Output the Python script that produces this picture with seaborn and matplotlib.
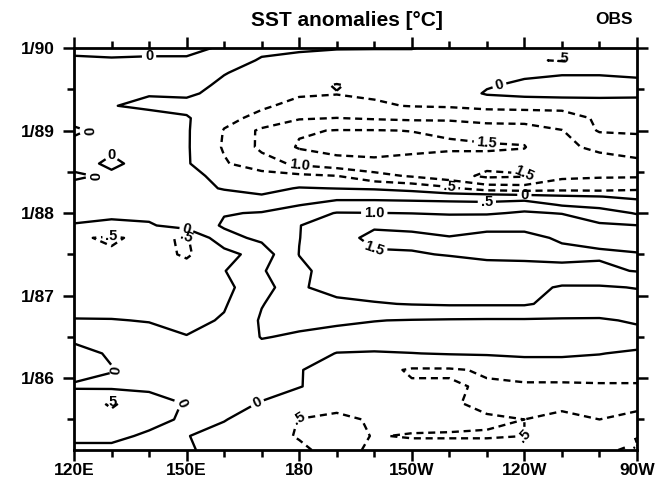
import numpy as np
import matplotlib
matplotlib.use("Agg")
import matplotlib.pyplot as plt
import seaborn as sns

# ---------------- data ----------------
lons = [120, 130, 140, 150, 160, 170, 180, 190, 200, 210, 220, 230, 240, 250, 260, 270]
times = [1985.13, 1985.3, 1985.5, 1985.7, 1985.9, 1986.1, 1986.3, 1986.5, 1986.7, 1986.9,
         1987.1, 1987.3, 1987.5, 1987.7, 1987.85, 1988.0, 1988.1, 1988.2, 1988.3, 1988.45,
         1988.6, 1988.8, 1989.0, 1989.15, 1989.3, 1989.45, 1989.55, 1989.7, 1989.85, 1990.0]

sst = [
    [0.10, 0.15, 0.20, 0.05, -0.15, -0.30, -0.45, -0.60, -0.45, -0.35, -0.35, -0.35, -0.35, -0.30, -0.45, -0.55],  # 1985.13
    [-0.10, -0.15, 0.10, 0.02, -0.20, -0.40, -0.52, -0.65, -0.48, -0.53, -0.53, -0.53, -0.50, -0.30, -0.35, -0.45],  # 1985.3
    [-0.30, -0.40, -0.20, 0.10, 0.03, -0.30, -0.51, -0.60, -0.45, -0.35, -0.40, -0.45, -0.50, -0.45, -0.50, -0.45],  # 1985.5
    [-0.30, -0.55, -0.30, 0.05, 0.15, -0.02, -0.25, -0.35, -0.40, -0.40, -0.45, -0.60, -0.55, -0.55, -0.55, -0.55],  # 1985.7
    [0.05, 0.10, 0.15, 0.20, 0.20, 0.15, 0.02, -0.20, -0.35, -0.45, -0.45, -0.55, -0.55, -0.55, -0.55, -0.55],  # 1985.9
    [-0.15, -0.02, 0.15, 0.20, 0.25, 0.25, 0.03, -0.25, -0.35, -0.55, -0.55, -0.45, -0.35, -0.35, -0.30, -0.30],  # 1986.1
    [-0.15, 0.05, 0.20, 0.25, 0.30, 0.35, 0.30, -0.02, -0.05, -0.01, 0.03, 0.05, 0.10, 0.10, 0.02, -0.10],  # 1986.3
    [0.10, 0.15, 0.15, 0.02, 0.15, 0.52, 0.45, 0.40, 0.35, 0.30, 0.30, 0.30, 0.35, 0.35, 0.30, 0.35],  # 1986.5
    [0.02, 0.02, -0.02, -0.15, 0.05, 0.55, 0.60, 0.55, 0.51, 0.48, 0.46, 0.45, 0.45, 0.45, 0.45, 0.55],  # 1986.7
    [-0.15, -0.20, -0.20, -0.25, -0.05, 0.48, 0.75, 0.90, 0.97, 1.02, 1.05, 1.05, 1.05, 0.85, 0.80, 0.80],  # 1986.9
    [-0.20, -0.30, -0.30, -0.30, -0.10, 0.25, 0.95, 1.15, 1.20, 1.20, 1.20, 1.20, 1.15, 0.95, 0.95, 1.02],  # 1987.1
    [-0.30, -0.35, -0.35, -0.35, -0.02, 0.45, 0.90, 1.20, 1.25, 1.30, 1.30, 1.35, 1.35, 1.40, 1.42, 1.52],  # 1987.3
    [-0.35, -0.45, -0.35, -0.55, -0.20, 0.25, 1.01, 1.30, 1.45, 1.47, 1.52, 1.58, 1.60, 1.60, 1.55, 1.52],  # 1987.5
    [-0.45, -0.55, -0.40, -0.55, 0.35, 0.60, 0.99, 1.35, 1.60, 1.60, 1.52, 1.60, 1.60, 1.45, 1.40, 1.35],  # 1987.7
    [-0.02, -0.10, -0.05, 0.20, 0.55, 0.75, 0.98, 1.40, 1.45, 1.40, 1.35, 1.40, 1.40, 1.30, 1.05, 1.01],  # 1987.85
    [0.10, 0.10, 0.12, 0.30, 0.48, 0.52, 0.80, 1.02, 1.01, 0.99, 0.95, 0.95, 1.05, 0.98, 0.80, 0.45],  # 1988.0
    [0.10, 0.10, 0.10, 0.25, 0.35, 0.35, 0.48, 0.70, 0.70, 0.70, 0.68, 0.62, 0.80, 0.45, 0.30, 0.20],  # 1988.1
    [0.15, 0.15, 0.15, 0.20, 0.10, 0.05, 0.30, 0.35, 0.35, 0.30, 0.25, 0.28, 0.20, 0.08, 0.01, -0.10],  # 1988.2
    [0.10, 0.10, 0.10, 0.10, -0.02, -0.15, 0.03, -0.01, -0.05, -0.15, -0.40, -0.75, -0.80, -0.70, -0.70, -0.60],  # 1988.3
    [-0.05, 0.05, 0.10, 0.05, -0.05, -0.30, -0.40, -0.49, -0.85, -1.05, -1.30, -1.60, -1.55, -1.10, -1.05, -1.05],  # 1988.45
    [0.10, -0.05, 0.10, 0.05, -0.45, -0.80, -1.10, -1.30, -1.35, -1.30, -1.20, -1.35, -1.30, -1.05, -1.10, -1.10],  # 1988.6
    [0.10, 0.05, 0.15, 0.05, -0.55, -1.10, -1.55, -1.70, -1.75, -1.65, -1.60, -1.55, -1.52, -1.05, -0.95, -0.80],  # 1988.8
    [-0.05, 0.10, 0.15, 0.05, -0.52, -1.10, -1.45, -1.52, -1.52, -1.49, -1.40, -1.35, -1.35, -1.02, -0.45, -0.42],  # 1989.0
    [0.10, 0.15, 0.20, 0.05, -0.40, -0.60, -0.95, -1.01, -0.95, -0.90, -0.90, -0.75, -0.70, -0.65, -0.45, -0.45],  # 1989.15
    [0.15, 0.02, -0.10, -0.15, -0.35, -0.45, -0.60, -0.60, -0.55, -0.48, -0.45, -0.40, -0.40, -0.40, -0.35, -0.30],  # 1989.3
    [0.15, 0.10, 0.03, 0.08, -0.15, -0.40, -0.46, -0.49, -0.45, -0.40, -0.30, 0.05, 0.15, 0.20, 0.20, 0.15],  # 1989.45
    [0.20, 0.25, 0.20, 0.15, -0.08, -0.30, -0.40, -0.52, -0.40, -0.35, -0.25, -0.05, 0.10, 0.20, 0.20, 0.15],  # 1989.55
    [0.15, 0.20, 0.20, 0.20, 0.02, -0.15, -0.20, -0.30, -0.30, -0.30, -0.20, -0.15, -0.10, -0.05, -0.05, -0.10],  # 1989.7
    [0.03, 0.03, 0.05, 0.05, 0.10, -0.02, -0.10, -0.15, -0.20, -0.20, -0.30, -0.35, -0.45, -0.53, -0.35, -0.20],  # 1989.85
    [-0.05, -0.10, -0.10, -0.10, 0.05, 0.05, 0.05, 0.02, 0.02, 0.02, -0.15, -0.20, -0.30, -0.30, -0.20, -0.10],  # 1990.0
]

neg_levels = [-2.0, -1.5, -1.0, -0.5]
pos_levels = [0.0, 0.5, 1.0, 1.5]

x_major = [120, 150, 180, 210, 240, 270]
x_labels = ["120E", "150E", "180", "150W", "120W", "90W"]
y_major = [1986, 1987, 1988, 1989, 1990]
y_labels = ["1/86", "1/87", "1/88", "1/89", "1/90"]

title_text = "SST anomalies [\u00b0C]"
corner_text = "OBS"

# ---------------- style ----------------
sns.set_theme(style="ticks")
plt.rcParams['font.family'] = ['Liberation Sans', 'DejaVu Sans']
plt.rcParams['font.weight'] = 'bold'
for key in ("text.color", "axes.labelcolor", "xtick.color", "ytick.color", "axes.edgecolor"):
    plt.rcParams[key] = "black"

fig = plt.figure(figsize=(6.62, 4.86), dpi=100)
fig.patch.set_facecolor("white")
ax = fig.add_axes([74 / 662, 1 - 450 / 486, (637 - 74) / 662, (450 - 48) / 486])
ax.set_facecolor("white")

X, Y = np.meshgrid(lons, times)
Z = np.array(sst)

cs_neg = ax.contour(X, Y, Z, levels=neg_levels, colors="black",
                    linewidths=1.7, linestyles=[(0, (3.0, 2.0))])
cs_pos = ax.contour(X, Y, Z, levels=pos_levels, colors="black",
                    linewidths=1.7, linestyles="solid")


def fmt(v):
    a = abs(v)
    if a < 1e-9:
        return "0"
    if a < 1:
        return ("%.1f" % a).lstrip("0")
    return "%.1f" % a


for cs in (cs_neg, cs_pos):
    txts = ax.clabel(cs, fmt=fmt, fontsize=10.5, inline=True, inline_spacing=3)
    for t in txts:
        t.set_fontweight("bold")
        t.set_color("black")

ax.set_xlim(120, 270)
ax.set_ylim(times[0], 1990.0)

ax.set_xticks(x_major)
ax.set_xticklabels(x_labels)
ax.set_xticks(list(range(120, 271, 10)), minor=True)
ax.set_yticks(y_major)
ax.set_yticklabels(y_labels)
ax.set_yticks([1985.5, 1986.5, 1987.5, 1988.5, 1989.5], minor=True)

ax.tick_params(which="both", direction="out", top=True, right=True,
               labeltop=False, labelright=False, width=1.8, color="black",
               labelcolor="black")
ax.tick_params(which="major", length=8, labelsize=12.5)
ax.tick_params(which="minor", length=5)
ax.tick_params(axis="x", which="major", pad=1.5)
ax.tick_params(axis="y", which="major", pad=6)
for lab in ax.get_xticklabels() + ax.get_yticklabels():
    lab.set_fontweight("bold")
for sp in ax.spines.values():
    sp.set_linewidth(2.0)
    sp.set_color("black")
    sp.set_visible(True)

fig.text(347 / 662, 1 - 20 / 486, title_text, ha="center", va="center",
         fontsize=15, fontweight="bold", color="black")
fig.text(633 / 662, 1 - 20 / 486, corner_text, ha="right", va="center",
         fontsize=12.5, fontweight="bold", color="black")

fig.savefig("out.png", dpi=100, facecolor="white")
